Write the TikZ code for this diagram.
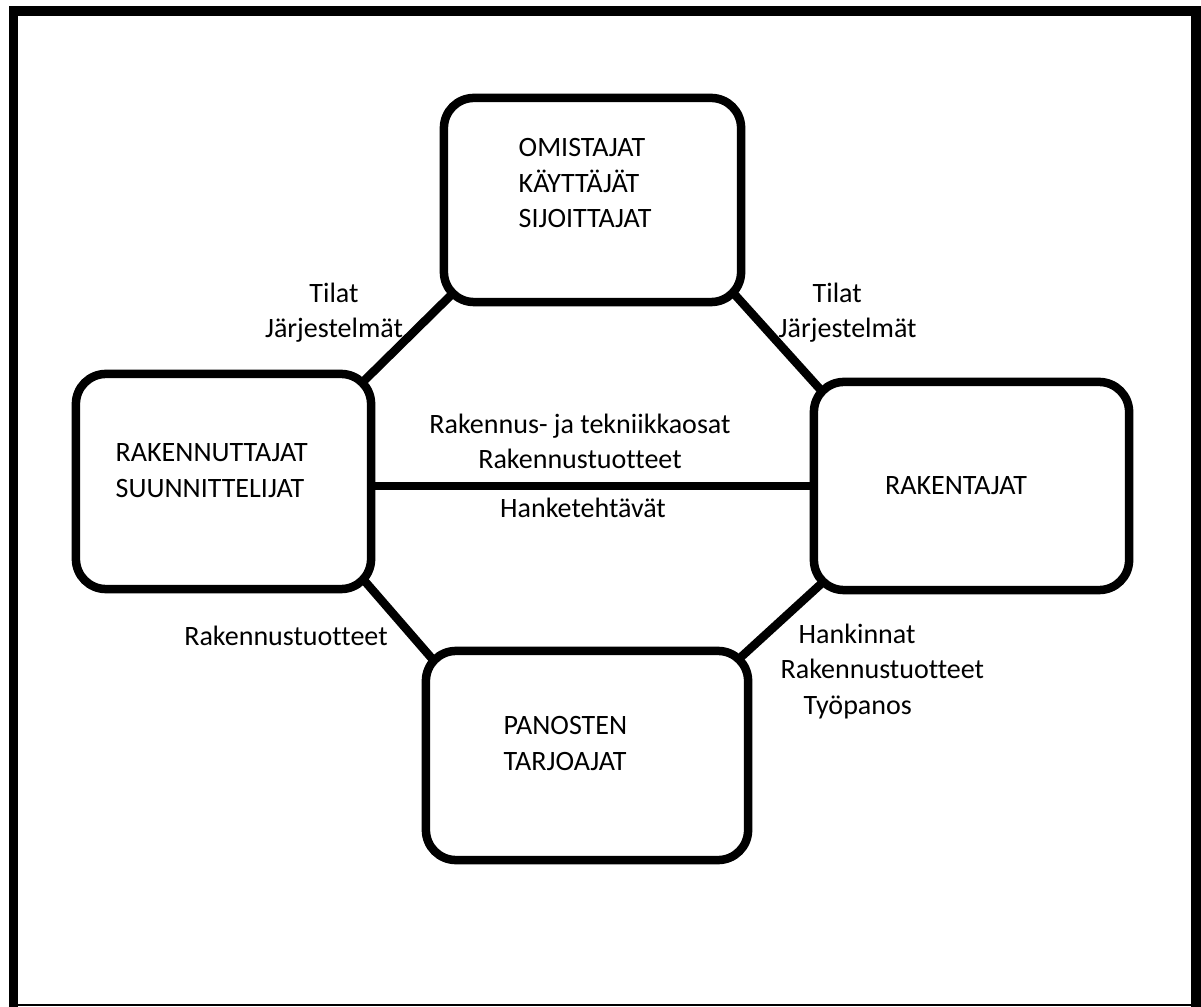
\documentclass[tikz,border=0pt]{standalone}
\usepackage{fontspec}
\setmainfont{Carlito}[Ligatures=NoCommon]
\usetikzlibrary{backgrounds}

\begin{document}
\begin{tikzpicture}[x=0.01cm, y=-0.01cm,
  party/.style={draw=black, line width=0.085cm, rounded corners=0.3cm, fill=white, inner sep=0},
  flow/.style={line width=0.085cm, shorten <=-0.25cm, shorten >=-0.25cm},
  txt/.style={inner sep=0, font=\fontsize{7.97}{10.1}\selectfont}]
\useasboundingbox (0,0) rectangle (1201,1007);
\draw[line width=0.095cm] (13.5,1007) -- (13.5,11) -- (1196,11) -- (1196,1007);
\draw[line width=0.02cm] (9,1005) -- (1200,1005);

\node[party, minimum width=2.97cm, minimum height=2.04cm] (owners) at (592.5,200) {};
\node[party, minimum width=2.95cm, minimum height=2.15cm] (developers) at (223.5,481.5) {};
\node[party, minimum width=3.15cm, minimum height=2.08cm] (builders) at (971.5,486) {};
\node[party, minimum width=3.22cm, minimum height=2.09cm] (suppliers) at (587,755.5) {};

\node[txt, align=left, anchor=north west] (ownerstext) at (518,138) {OMISTAJAT\\KÄYTTÄJÄT\\SIJOITTAJAT};
\node[txt, align=left, anchor=north west] (developerstext) at (115,443) {RAKENNUTTAJAT\\SUUNNITTELIJAT};
\node[txt, anchor=base] (builderstext) at (956,495) {RAKENTAJAT};
\node[txt, align=left, anchor=north west] (supplierstext) at (503,716) {PANOSTEN\\TARJOAJAT};

\node[txt, align=center, anchor=north] (spacesleft) at (334,282) {Tilat\\Järjestelmät};
\node[txt, align=left, anchor=north west] (spacesright) at (778,282) {\hspace{0.34cm}Tilat\\Järjestelmät};
\node[txt, align=center, anchor=north] (parts) at (580,413) {Rakennus- ja tekniikkaosat\\Rakennustuotteet};
\node[txt, anchor=base] (tasks) at (583,518) {Hanketehtävät};
\node[txt, anchor=base] (products) at (286,645) {Rakennustuotteet};
\node[txt, align=left, anchor=north west] (inputs) at (780,623) {\hspace{0.18cm}Hankinnat\\Rakennustuotteet\\\hspace{0.23cm}Työpanos};

\begin{scope}[on background layer]
\draw[flow] (developers.north east) -- (owners.south west);
\draw[flow] (owners.south east) -- (builders.north west);
\draw[flow] (developers.south east) -- (suppliers.north west);
\draw[flow] (builders.south west) -- (suppliers.north east);
\draw[line width=0.085cm] (developers.east |- builders.west) -- (builders.west);
\end{scope}
\end{tikzpicture}
\end{document}
